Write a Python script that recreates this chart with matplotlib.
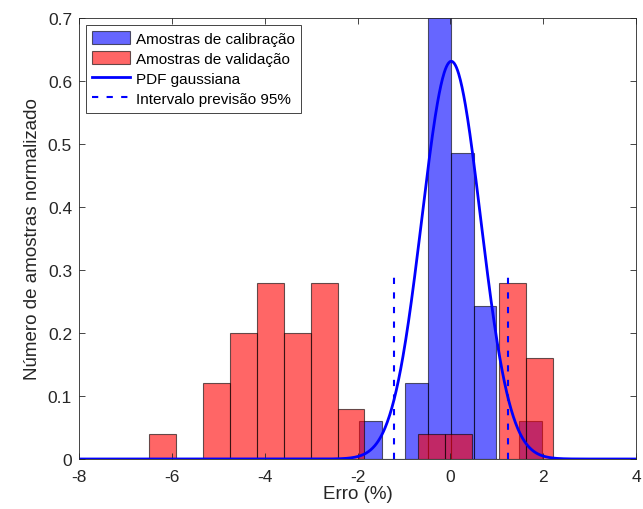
import numpy as np
import matplotlib
matplotlib.use("Agg")
import matplotlib.pyplot as plt

plt.rcParams['font.family'] = ['Liberation Sans', 'DejaVu Sans']
plt.rcParams['axes.unicode_minus'] = False

# Calibration histogram (normalized as pdf)
cal_start = -1.97
cal_width = 0.494
cal_heights = [0.06, 0.0, 0.12, 1.03, 0.485, 0.243, 0.0, 0.06]

# Validation histogram (normalized as pdf)
val_start = -6.49
val_width = 0.58
val_heights = [0.04, 0.0, 0.12, 0.20, 0.28, 0.20, 0.28, 0.08, 0.0, 0.0,
               0.04, 0.04, 0.0, 0.28, 0.16]

# Gaussian fit
mu = 0.02
sigma = 0.632
pi_low, pi_high = -1.22, 1.25
pi_height = 0.30

fig = plt.figure(figsize=(6.43, 5.10), dpi=100)
ax = fig.add_axes([79/643, 1 - 460/510, (636-79)/643, (460-19)/510])

cal_left = cal_start + cal_width * np.arange(len(cal_heights))
val_left = val_start + val_width * np.arange(len(val_heights))

h1 = ax.bar(cal_left, cal_heights, width=cal_width, align='edge',
            color=(0, 0, 1, 0.6), edgecolor=(0, 0, 0, 0.6), linewidth=0.8,
            label='Amostras de calibração')
h2 = ax.bar(val_left, val_heights, width=val_width, align='edge',
            color=(1, 0, 0, 0.6), edgecolor=(0, 0, 0, 0.6), linewidth=0.8,
            label='Amostras de validação')

xs = np.linspace(-8, 4, 1000)
pdf = np.exp(-0.5 * ((xs - mu) / sigma) ** 2) / (sigma * np.sqrt(2 * np.pi))
h3, = ax.plot(xs, pdf, color='#0000ff', lw=2, label='PDF gaussiana')
h4, = ax.plot([pi_low, pi_low], [0, pi_height], color='#0000ff', lw=1.5,
              ls=(0, (3, 4)), label='Intervalo previsão 95%')
ax.plot([pi_high, pi_high], [0, pi_height], color='#0000ff', lw=1.5,
        ls=(0, (3, 4)))

ax.set_xlim(-8, 4)
ax.set_ylim(0, 0.7)
ax.set_xticks(np.arange(-8, 5, 2))
ax.set_yticks(np.arange(0, 0.71, 0.1))
ax.set_yticklabels(['0', '0.1', '0.2', '0.3', '0.4', '0.5', '0.6', '0.7'])
ax.tick_params(direction='in', top=True, right=True, labelsize=12.5,
               color='#262626', labelcolor='#262626', length=4, width=0.6)
ax.tick_params(axis='x', pad=7)
ax.tick_params(axis='y', pad=5)
for s in ax.spines.values():
    s.set_color('#262626')
    s.set_linewidth(0.6)

ax.set_xlabel('Erro (%)', fontsize=13.5, color='#262626', labelpad=1)
ax.set_ylabel('Número de amostras normalizado', fontsize=13.5,
              color='#262626', labelpad=5)

leg = ax.legend([h1, h2, h3, h4],
                ['Amostras de calibração', 'Amostras de validação',
                 'PDF gaussiana', 'Intervalo previsão 95%'],
                loc='upper left', fontsize=11, fancybox=False, framealpha=1,
                edgecolor='#262626', borderaxespad=0.45, handlelength=2.5,
                handleheight=0.95, handletextpad=0.4, labelspacing=0.35,
                borderpad=0.4)
leg.get_frame().set_linewidth(0.6)

fig.savefig('out.png', dpi=100)
